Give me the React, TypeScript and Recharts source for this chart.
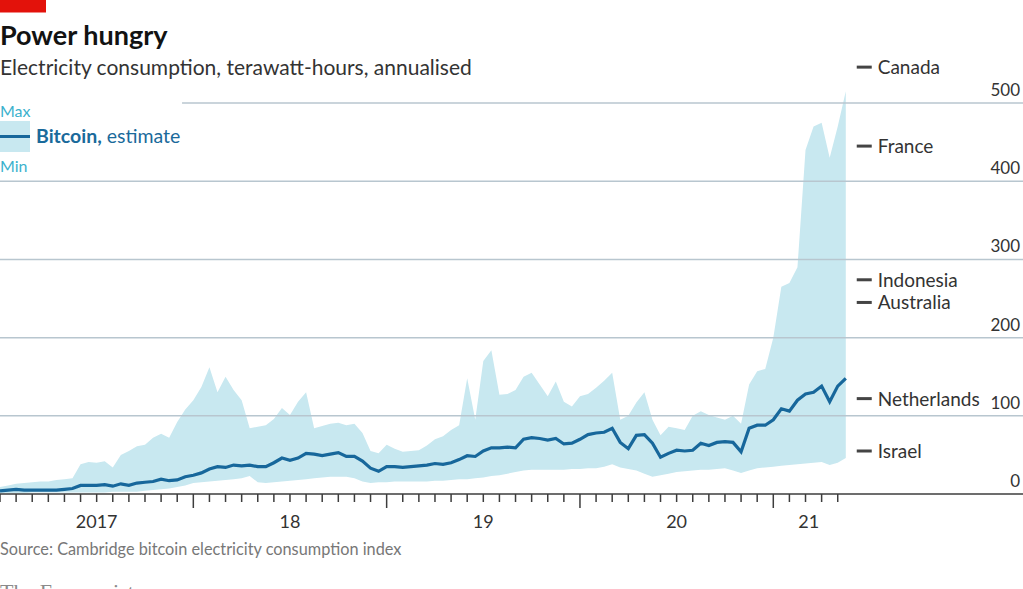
import {
  ComposedChart,
  Area,
  Line,
  XAxis,
  YAxis,
  ReferenceLine,
  ReferenceDot,
} from "recharts";

// Half-monthly samples starting January 2017, TWh annualised
const estimate = [
  4, 5, 6, 5, 5, 5, 5, 5, 6, 7,
  11, 11, 11, 12, 10, 13, 11, 14, 15, 16,
  19, 17, 18, 22, 24, 27, 32, 35, 34, 37,
  36, 37, 35, 35, 40, 46, 43, 46, 52, 51,
  49, 51, 53, 48, 48, 42, 33, 29, 35, 35,
  34, 35, 36, 37, 39, 38, 40, 44, 49, 48,
  55, 59, 59, 60, 59, 70, 72, 71, 69, 71,
  64, 65, 70, 76, 78, 79, 84, 66, 58, 75,
  76, 65, 47, 52, 56, 55, 56, 65, 62, 66,
  67, 66, 54, 84, 88, 88, 95, 109, 106, 120,
  128, 130, 138, 118, 138, 148,
];

const maxEstimate = [
  9, 11, 13, 14, 15, 16, 16, 18, 19, 20,
  38, 41, 40, 42, 34, 50, 55, 61, 63, 72,
  77, 72, 92, 108, 120, 137, 162, 130, 150, 133,
  120, 84, 86, 88, 96, 110, 101, 118, 130, 84,
  87, 90, 91, 88, 90, 78, 55, 52, 63, 58,
  54, 55, 56, 62, 70, 74, 82, 88, 148, 95,
  170, 184, 127, 128, 133, 150, 155, 140, 125, 144,
  118, 112, 125, 128, 136, 145, 155, 95, 100, 117,
  130, 95, 75, 86, 84, 82, 100, 106, 101, 98,
  95, 100, 90, 140, 157, 160, 200, 265, 270, 290,
  440, 470, 475, 430, 470, 515,
];

const minEstimate = [
  1, 1, 1, 1, 2, 2, 2, 2, 2, 2,
  2, 2, 2, 2, 3, 3, 3, 3, 4, 5,
  6, 7, 9, 11, 14, 15, 16, 17, 18, 19,
  20, 23, 15, 14, 15, 16, 17, 18, 19, 20,
  21, 22, 22, 22, 20, 16, 14, 15, 15, 16,
  16, 16, 16, 16, 17, 17, 18, 19, 19, 20,
  21, 23, 24, 26, 28, 30, 31, 31, 31, 31,
  31, 32, 32, 33, 33, 35, 38, 34, 32, 30,
  26, 22, 24, 26, 28, 29, 30, 31, 31, 32,
  33, 30, 27, 30, 33, 34, 35, 36, 37, 38,
  39, 40, 41, 37, 40, 46,
];

const yTicks = [0, 100, 200, 300, 400, 500];
const gridValues = [100, 200, 300, 400];
const yearLabels = ["2017", "18", "19", "20", "21"];
const yearLabelAt = [6, 18, 30, 42, 50.2];
const yearStarts = [12, 24, 36, 48];
const monthTicks = Array.from({ length: 53 }, (_, i) => i);

const countries = ["Canada", "France", "Indonesia", "Australia", "Netherlands", "Israel"];
const countryTWh = [546, 445, 274, 245, 122, 55];

const data = estimate.map((v, i) => ({
  month: i * 0.5,
  est: v,
  range: [minEstimate[i], maxEstimate[i]],
}));

const FONT = "Lato, 'Open Sans', sans-serif";
const BAND = "#c8e8f0";
const LINE = "#17679b";
const GRID = "#b8c6cf";

function MonthTick({ x, y, payload }: any) {
  const v = payload.value;
  const li = yearLabelAt.indexOf(v);
  const major = yearStarts.includes(v);
  return (
    <g>
      {Number.isInteger(v) && (
        <line x1={x} x2={x} y1={y} y2={y + (major ? 14 : 8)} stroke="#3d3d3d" strokeWidth={1.5} />
      )}
      {li >= 0 && (
        <text x={x} y={y + 34} textAnchor="middle" fontFamily={FONT} fontSize={18} fill="#333">
          {yearLabels[li]}
        </text>
      )}
    </g>
  );
}

function ValueTick({ x, y, payload }: any) {
  return (
    <text x={1020} y={y - 7} textAnchor="end" fontFamily={FONT} fontSize={17} fill="#333">
      {payload.value}
    </text>
  );
}

function CountryMark({ cx, cy, name }: any) {
  return (
    <g>
      <rect x={cx} y={cy - 1.5} width={15} height={3} fill="#444" />
      <text x={cx + 21} y={cy + 7} fontFamily={FONT} fontSize={19} fill="#333">
        {name}
      </text>
    </g>
  );
}

export default function App() {
  return (
    <div style={{ position: "relative", width: 1023, height: 589, overflow: "hidden", background: "#fff" }}>
      <style>{"body{margin:0}"}</style>
      <ComposedChart
        width={1023}
        height={589}
        data={data}
        margin={{ top: 64, right: 0, bottom: 0, left: 0 }}
      >
        {gridValues.map((g) => (
          <ReferenceLine key={g} y={g} stroke={GRID} strokeWidth={1.5} />
        ))}
        <ReferenceLine
          segment={[
            { x: 11.3, y: 500 },
            { x: 63.5, y: 500 },
          ]}
          stroke={GRID}
          strokeWidth={1.5}
        />
        <XAxis
          dataKey="month"
          type="number"
          domain={[0, 63.5]}
          ticks={[...monthTicks, 50.2]}
          interval={0}
          height={95}
          tickSize={0}
          tickMargin={0}
          tickLine={false}
          axisLine={{ stroke: "#3d3d3d", strokeWidth: 1.5 }}
          tick={<MonthTick />}
        />
        <YAxis
          orientation="right"
          mirror
          domain={[0, 550]}
          ticks={yTicks}
          width={40}
          interval={0}
          tickSize={0}
          tickMargin={0}
          tickLine={false}
          axisLine={false}
          tick={<ValueTick />}
        />
        <Area
          dataKey="range"
          type="linear"
          fill={BAND}
          fillOpacity={1}
          stroke="none"
          isAnimationActive={false}
        />
        <Line
          dataKey="est"
          type="linear"
          stroke={LINE}
          strokeWidth={3.2}
          dot={false}
          isAnimationActive={false}
        />
        {countries.map((c, i) => (
          <ReferenceDot
            key={c}
            x={53.18}
            y={countryTWh[i]}
            r={0}
            shape={(p: any) => <CountryMark {...p} name={c} />}
          />
        ))}
      </ComposedChart>

      <svg
        width={1023}
        height={589}
        style={{ position: "absolute", left: 0, top: 0, pointerEvents: "none" }}
      >
        <rect x={0} y={0} width={46} height={12.5} fill="#e3120b" />
        <text x={0} y={45} fontFamily={FONT} fontSize={27} fontWeight={700} fill="#121212">
          Power hungry
        </text>
        <text x={0} y={75} fontFamily={FONT} fontSize={21} fill="#333">
          Electricity consumption, terawatt-hours, annualised
        </text>
        <text x={0} y={116.5} fontFamily={FONT} fontSize={16} fill="#3bb1cd">
          Max
        </text>
        <rect x={0} y={121} width={30} height={31} fill={BAND} />
        <line x1={0} x2={30} y1={136.5} y2={136.5} stroke={LINE} strokeWidth={3} />
        <text x={36} y={143.3} fontFamily={FONT} fontSize={19.5} fill="#1a6a9b">
          <tspan fontWeight={700}>Bitcoin,</tspan> estimate
        </text>
        <text x={0} y={172} fontFamily={FONT} fontSize={16} fill="#3bb1cd">
          Min
        </text>
        <text x={0} y={555} fontFamily={FONT} fontSize={16.3} fill="#777">
          Source: Cambridge bitcoin electricity consumption index
        </text>
        <text x={0} y={599} fontFamily="'Liberation Serif', serif" fontSize={22} fill="#8a8a8a">
          The Economist
        </text>
      </svg>
    </div>
  );
}
